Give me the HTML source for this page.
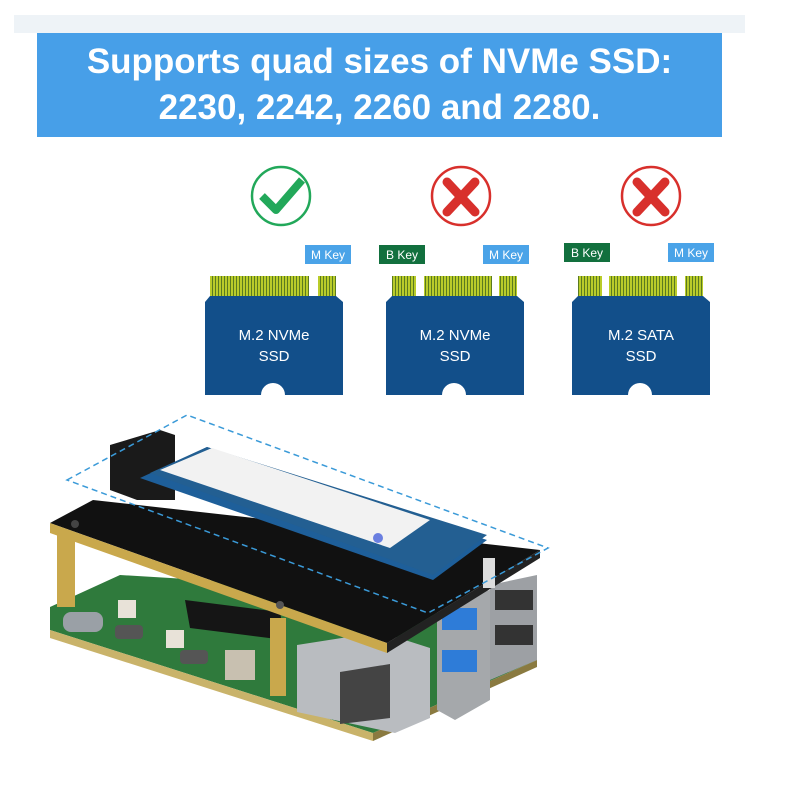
<!DOCTYPE html>
<html><head><meta charset="utf-8"><style>
body{margin:0;width:800px;height:800px;background:#fff;overflow:hidden;position:relative;font-family:"Liberation Sans",sans-serif}
.strip{position:absolute;left:14px;top:15px;width:731px;height:18px;background:#eef3f7}
.banner{position:absolute;left:37px;top:33px;width:685px;height:104px;background:#479fe8;color:#fff;font-weight:bold;font-size:35px;text-align:center;line-height:46px;padding-top:6px;box-sizing:border-box}
</style></head><body>
<div class="strip"></div>
<div class="banner">Supports quad sizes of NVMe SSD:<br>2230, 2242, 2260 and 2280.</div>
<svg width="800" height="800" style="position:absolute;left:0;top:0" font-family="Liberation Sans, sans-serif">
<defs>
<pattern id="pins" width="3" height="20" patternUnits="userSpaceOnUse"><rect width="3" height="20" fill="#b9cc2a"/><rect x="2" width="1" height="20" fill="#5a7a20"/></pattern>
</defs>
<circle cx="281" cy="196" r="29" fill="none" stroke="#22a85a" stroke-width="2.5"/>
<path d="M262 196 L276 210 L302 180" fill="none" stroke="#22a85a" stroke-width="8" stroke-linejoin="round"/>
<circle cx="461" cy="196" r="29" fill="none" stroke="#d8302c" stroke-width="2.5"/>
<path d="M447 182 L475 212 M475 182 L447 212" stroke="#d8302c" stroke-width="9" stroke-linecap="round"/>
<circle cx="651" cy="196" r="29" fill="none" stroke="#d8302c" stroke-width="2.5"/>
<path d="M637 182 L665 212 M665 182 L637 212" stroke="#d8302c" stroke-width="9" stroke-linecap="round"/>
<g>
<rect x="210" y="276" width="99" height="20" fill="url(#pins)"/>
<rect x="318" y="276" width="18" height="20" fill="url(#pins)"/>
<path d="M205 302 L210 296 L336 296 L343 302 L343 395 L285 395 A12 12 0 0 0 261 395 L205 395Z" fill="#124f8a"/>
<rect x="305" y="245" width="46" height="19" fill="#4aa3e8"/><text x="328" y="259" fill="#fff" font-size="12" text-anchor="middle">M Key</text>
<text x="274" y="340" fill="#fff" font-size="15" text-anchor="middle">M.2 NVMe</text><text x="274" y="361" fill="#fff" font-size="15" text-anchor="middle">SSD</text>
</g>
<g>
<rect x="392" y="276" width="24" height="20" fill="url(#pins)"/>
<rect x="424" y="276" width="68" height="20" fill="url(#pins)"/>
<rect x="499" y="276" width="18" height="20" fill="url(#pins)"/>
<path d="M386 302 L392 296 L517 296 L524 302 L524 395 L466 395 A12 12 0 0 0 442 395 L386 395Z" fill="#124f8a"/>
<rect x="379" y="245" width="46" height="19" fill="#12703e"/><text x="402" y="259" fill="#fff" font-size="12" text-anchor="middle">B Key</text>
<rect x="483" y="245" width="46" height="19" fill="#4aa3e8"/><text x="506" y="259" fill="#fff" font-size="12" text-anchor="middle">M Key</text>
<text x="455" y="340" fill="#fff" font-size="15" text-anchor="middle">M.2 NVMe</text><text x="455" y="361" fill="#fff" font-size="15" text-anchor="middle">SSD</text>
</g>
<g>
<rect x="578" y="276" width="24" height="20" fill="url(#pins)"/>
<rect x="609" y="276" width="68" height="20" fill="url(#pins)"/>
<rect x="685" y="276" width="18" height="20" fill="url(#pins)"/>
<path d="M572 302 L578 296 L703 296 L710 302 L710 395 L652 395 A12 12 0 0 0 628 395 L572 395Z" fill="#124f8a"/>
<rect x="564" y="243" width="46" height="19" fill="#12703e"/><text x="587" y="257" fill="#fff" font-size="12" text-anchor="middle">B Key</text>
<rect x="668" y="243" width="46" height="19" fill="#4aa3e8"/><text x="691" y="257" fill="#fff" font-size="12" text-anchor="middle">M Key</text>
<text x="641" y="340" fill="#fff" font-size="15" text-anchor="middle">M.2 SATA</text><text x="641" y="361" fill="#fff" font-size="15" text-anchor="middle">SSD</text>
</g>
<!-- green Pi board -->
<polygon points="50,607 120,575 537,600 537,660 373,733 50,630" fill="#2f7a3c"/>
<polygon points="50,630 373,733 373,741 50,638" fill="#c9b36a"/>
<polygon points="373,733 537,660 537,667 373,741" fill="#8a7a40"/>
<rect x="63" y="612" width="40" height="20" rx="8" fill="#9aa0a6"/>
<rect x="115" y="625" width="28" height="14" rx="4" fill="#555"/>
<rect x="180" y="650" width="28" height="14" rx="4" fill="#555"/>
<rect x="118" y="600" width="18" height="18" fill="#e8e2d8"/>
<rect x="166" y="630" width="18" height="18" fill="#e8e2d8"/>
<polygon points="185,600 280,612 285,640 190,628" fill="#151515"/>
<rect x="225" y="650" width="30" height="30" fill="#c8c0b0"/>
<!-- ethernet -->
<polygon points="297,645 380,632 430,648 430,718 395,733 297,712" fill="#b9bcc0"/>
<polygon points="340,672 390,664 390,718 340,724" fill="#444"/>
<!-- USB -->
<polygon points="437,603 490,590 490,700 455,720 437,710" fill="#a5a8ab"/>
<rect x="442" y="608" width="35" height="22" fill="#2e7cd8"/><rect x="442" y="650" width="35" height="22" fill="#2e7cd8"/>
<polygon points="490,585 537,575 537,660 490,680" fill="#9da0a4"/>
<rect x="495" y="590" width="38" height="20" fill="#333"/><rect x="495" y="625" width="38" height="20" fill="#333"/>
<!-- standoffs -->
<rect x="57" y="535" width="18" height="72" fill="#c9a84c"/>
<rect x="270" y="618" width="16" height="78" fill="#c9a84c"/>
<!-- black adapter board -->
<polygon points="50,523 93,500 540,550 387,643" fill="#111"/>
<polygon points="50,523 387,643 387,653 50,533" fill="#c9a84c"/>
<polygon points="387,643 540,550 540,558 387,653" fill="#222"/>
<circle cx="75" cy="524" r="4" fill="#444"/><circle cx="280" cy="605" r="4" fill="#555"/>
<!-- SSD connector -->
<polygon points="110,445 160,430 175,435 175,500 137,500 110,490" fill="#1a1a1a"/>
<!-- SSD -->
<polygon points="140,478 207,447 487,540 433,580" fill="#1e5f9a"/>
<polygon points="150,473 207,447 487,535 433,575" fill="#235f92"/>
<polygon points="160,470 212,448 430,520 390,548" fill="#f2f2f2"/>
<circle cx="378" cy="538" r="5" fill="#6a7fe0"/>
<rect x="483" y="558" width="12" height="30" fill="#ddd"/>
<polygon points="67,480 187,415 548,548 428,613" fill="none" stroke="#3a9ad8" stroke-width="1.5" stroke-dasharray="6,4"/>
</svg>
</body></html>
